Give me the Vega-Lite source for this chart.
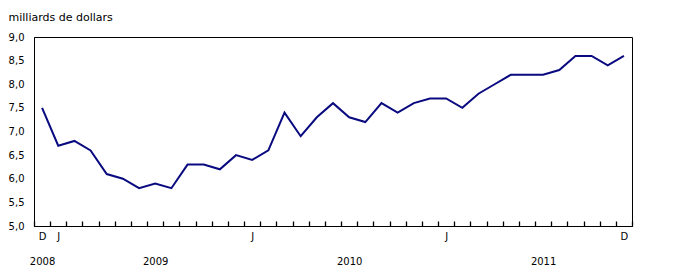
{
  "$schema": "https://vega.github.io/schema/vega-lite/v6.json",
  "width": 598,
  "height": 189,
  "autosize": {"type": "none"},
  "padding": {"left": 34, "top": 37, "right": 46, "bottom": 53},
  "config": {
    "view": {"stroke": "black", "strokeWidth": 1},
    "font": "DejaVu Sans",
    "axis": {"labelFont": "DejaVu Sans", "titleFont": "DejaVu Sans", "labelFontSize": 10, "titleFontSize": 11, "labelColor": "black", "titleColor": "black", "domainColor": "black", "tickColor": "black", "grid": false}
  },
  "data": {"values": [
    {"month": "2008-12", "value": 7.5},
    {"month": "2009-01", "value": 6.7},
    {"month": "2009-02", "value": 6.8},
    {"month": "2009-03", "value": 6.6},
    {"month": "2009-04", "value": 6.1},
    {"month": "2009-05", "value": 6.0},
    {"month": "2009-06", "value": 5.8},
    {"month": "2009-07", "value": 5.9},
    {"month": "2009-08", "value": 5.8},
    {"month": "2009-09", "value": 6.3},
    {"month": "2009-10", "value": 6.3},
    {"month": "2009-11", "value": 6.2},
    {"month": "2009-12", "value": 6.5},
    {"month": "2010-01", "value": 6.4},
    {"month": "2010-02", "value": 6.6},
    {"month": "2010-03", "value": 7.4},
    {"month": "2010-04", "value": 6.9},
    {"month": "2010-05", "value": 7.3},
    {"month": "2010-06", "value": 7.6},
    {"month": "2010-07", "value": 7.3},
    {"month": "2010-08", "value": 7.2},
    {"month": "2010-09", "value": 7.6},
    {"month": "2010-10", "value": 7.4},
    {"month": "2010-11", "value": 7.6},
    {"month": "2010-12", "value": 7.7},
    {"month": "2011-01", "value": 7.7},
    {"month": "2011-02", "value": 7.5},
    {"month": "2011-03", "value": 7.8},
    {"month": "2011-04", "value": 8.0},
    {"month": "2011-05", "value": 8.2},
    {"month": "2011-06", "value": 8.2},
    {"month": "2011-07", "value": 8.2},
    {"month": "2011-08", "value": 8.3},
    {"month": "2011-09", "value": 8.6},
    {"month": "2011-10", "value": 8.6},
    {"month": "2011-11", "value": 8.4},
    {"month": "2011-12", "value": 8.6}
  ]},
  "mark": {"type": "line", "color": "#0a0a80", "strokeWidth": 2},
  "encoding": {
    "x": {
      "field": "month",
      "type": "ordinal",
      "sort": "ascending",
      "scale": {"type": "band", "paddingInner": 0, "paddingOuter": 0},
      "axis": {
        "title": null,
        "zindex": 1,
        "labelAngle": 0,
        "labelOverlap": false,
        "ticks": true,
        "tickBand": "extent",
        "tickSize": -5,
        "tickWidth": 1.3,
        "tickRound": true,
        "tickOpacity": 1,
        "labelPadding": 10,
        "labelLineHeight": 25,
        "labelBaseline": "top",
        "labelExpr": "datum.value == '2008-12' ? ['D', '2008'] : datum.value == '2009-01' ? 'J' : datum.value == '2009-07' ? ['', '2009'] : datum.value == '2010-01' ? 'J' : datum.value == '2010-07' ? ['', '2010'] : datum.value == '2011-01' ? 'J' : datum.value == '2011-07' ? ['', '2011'] : datum.value == '2011-12' ? 'D' : ''"
      }
    },
    "y": {
      "field": "value",
      "type": "quantitative",
      "scale": {"domain": [5, 9]},
      "axis": {
        "values": [5, 5.5, 6, 6.5, 7, 7.5, 8, 8.5, 9],
        "ticks": false,
        "labelPadding": 10,
        "labelExpr": "replace(format(datum.value, '.1f'), '.', ',')",
        "title": "milliards de dollars",
        "titleAngle": 0,
        "titleAlign": "left",
        "titleBaseline": "alphabetic",
        "titleFontWeight": "normal",
        "titleX": -26,
        "titleY": -17
      }
    }
  }
}
